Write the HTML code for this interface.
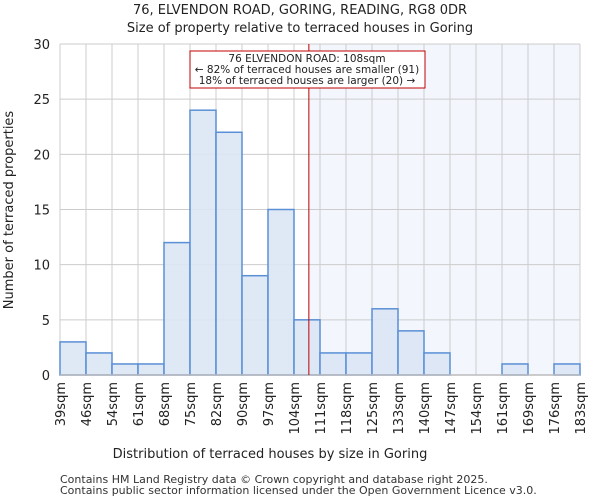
<!DOCTYPE html>
<html><head><meta charset="utf-8"><style>
html,body{margin:0;padding:0;background:#fff;}
svg{display:block;font-family:"DejaVu Sans","Liberation Sans",sans-serif;}
</style></head><body>
<svg id="chart" width="600" height="500" viewBox="0 0 600 500" xmlns="http://www.w3.org/2000/svg">
<text x="300" y="14" text-anchor="middle" font-size="13" fill="#222">76, ELVENDON ROAD, GORING, READING, RG8 0DR</text>
<text x="300" y="32" text-anchor="middle" font-size="13" fill="#222">Size of property relative to terraced houses in Goring</text>
<g id="plot"></g>
<text x="270" y="458" text-anchor="middle" font-size="13" fill="#222">Distribution of terraced houses by size in Goring</text>
<text transform="translate(13,210) rotate(-90)" text-anchor="middle" font-size="13" fill="#222">Number of terraced properties</text>
<text x="60" y="483" font-size="11" fill="#333">Contains HM Land Registry data © Crown copyright and database right 2025.</text>
<text x="60" y="494" font-size="11" fill="#333">Contains public sector information licensed under the Open Government Licence v3.0.</text>
</svg>
<script>
const binLabels = ["39sqm","46sqm","54sqm","61sqm","68sqm","75sqm","82sqm","90sqm","97sqm","104sqm","111sqm","118sqm","125sqm","133sqm","140sqm","147sqm","154sqm","161sqm","169sqm","176sqm","183sqm"];
const counts = [3,2,1,1,12,24,22,9,15,5,2,2,6,4,2,0,0,1,0,1];
const yTicks = [0,5,10,15,20,25,30];
const markerBinPos = 9 + 4/7; // 108sqm between 104 and 111
const NS = "http://www.w3.org/2000/svg";
const L=60, R=580, T=44, B=375, yMax=30;
const bw = (R-L)/counts.length;
const xs = i => L + i*bw;
const ys = v => B - v/yMax*(B-T);
const g = document.getElementById('plot');
function mk(tag, attrs){const e=document.createElementNS(NS,tag);for(const k in attrs)e.setAttribute(k,attrs[k]);g.appendChild(e);return e;}
const mx = xs(markerBinPos);
let e = mk('rect',{x:mx,y:T,width:R-mx,height:B-T,fill:'#f3f6fd'});


for(let i=0;i<=counts.length;i++){
  e = mk('line',{x1:xs(i),x2:xs(i),y1:T,y2:B,stroke:'#cccccc','stroke-width':1});
  
  
}
yTicks.forEach(t=>{
  e = mk('line',{x1:L,x2:R,y1:ys(t),y2:ys(t),stroke:'#cccccc','stroke-width':1});
  
  
  e = mk('text',{x:L-10,y:ys(t)+5,'text-anchor':'end','font-size':13,fill:'#222'});
  e.textContent=t;
  
  
});
counts.forEach((c,i)=>{
  if(c<=0) return;
  e = mk('rect',{x:xs(i),y:ys(c),width:bw,height:B-ys(c),fill:'#dce6f4','fill-opacity':0.9,stroke:'#5b8fd6','stroke-width':1.5});
  
  
});
e = mk('line',{x1:L,x2:R,y1:B,y2:B,stroke:'#bbbbbb','stroke-width':1.5});


binLabels.forEach((lb,i)=>{
  e = mk('text',{transform:`translate(${xs(i)+5},382) rotate(-90)`,'text-anchor':'end','font-size':13,fill:'#222'});
  e.textContent=lb;
  
  
});
e = mk('line',{x1:mx,x2:mx,y1:T,y2:B,stroke:'#c00000','stroke-width':1});


e = mk('rect',{x:190,y:51,width:235,height:37,fill:'#fff',stroke:'#c00000','stroke-width':1});


const ann = ["76 ELVENDON ROAD: 108sqm","← 82% of terraced houses are smaller (91)","18% of terraced houses are larger (20) →"];
ann.forEach((t,i)=>{
  e = mk('text',{x:307,y:62+i*11,'text-anchor':'middle','font-size':10.5,fill:'#222'});
  e.textContent=t;
  
  
});
</script>
</body></html>
